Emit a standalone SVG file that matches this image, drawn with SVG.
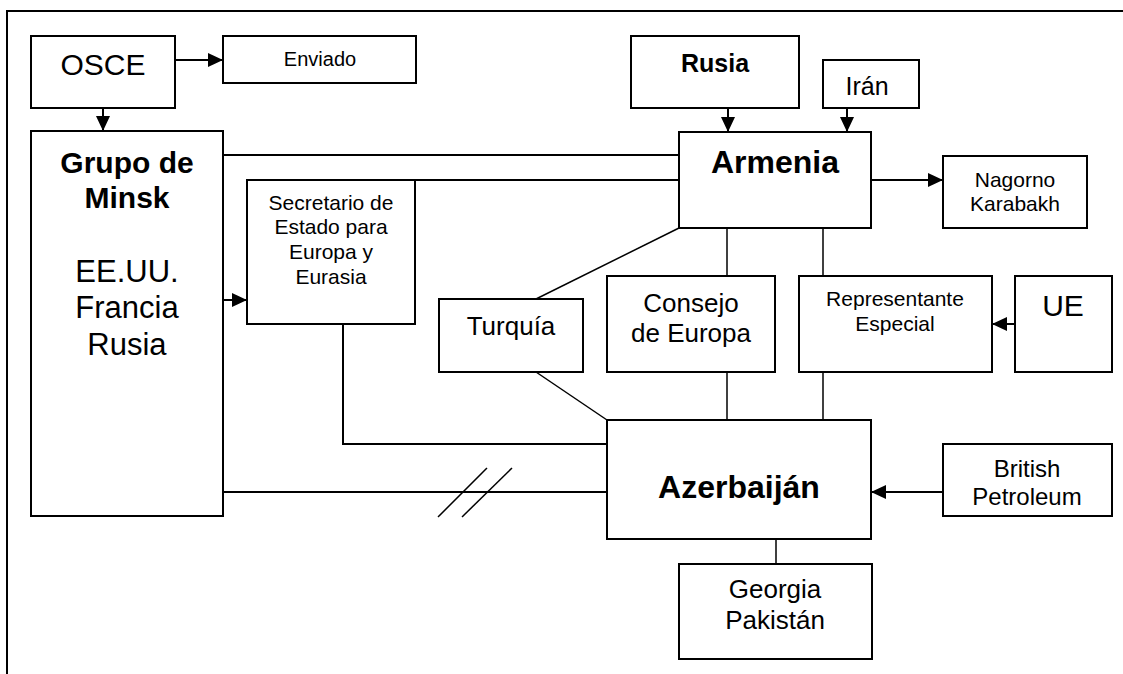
<svg xmlns="http://www.w3.org/2000/svg" width="1123" height="674" viewBox="0 0 1123 674">
<style>
.box{fill:#fff;stroke:#000;stroke-width:2}
.t{font-family:"Liberation Sans",Arial,sans-serif;fill:#000;text-anchor:middle}
.b{font-weight:bold}
.ln{fill:none;stroke:#000;stroke-width:2}
.thin{fill:none;stroke:#000;stroke-width:1.5}
.arr{fill:none;stroke:#000;stroke-width:2;marker-end:url(#ah)}
</style>
<defs>
<marker id="ah" markerUnits="userSpaceOnUse" markerWidth="16" markerHeight="15" refX="15" refY="7" orient="auto">
<path d="M0,0 L15,7 L0,14 z" fill="#000"/>
</marker>
</defs>
<rect width="1123" height="674" fill="#fff"/>
<g id="frame">
<path class="ln" d="M7,674 V11 H1123"/>
</g>
<g id="connectors">
<line class="arr" x1="175" y1="60" x2="223" y2="60"/>
<line class="arr" x1="103" y1="108" x2="103" y2="131"/>
<line class="ln" x1="223" y1="155" x2="679" y2="155"/>
<line class="ln" x1="415" y1="180" x2="679" y2="180"/>
<line class="arr" x1="175" y1="300" x2="247" y2="300"/>
<line class="arr" x1="728" y1="108" x2="728" y2="132"/>
<line class="arr" x1="847" y1="108" x2="847" y2="132"/>
<line class="arr" x1="871" y1="180" x2="943" y2="180"/>
<polyline class="ln" points="343,324 343,444 607,444"/>
<line class="ln" x1="223" y1="492" x2="607" y2="492"/>
<line class="thin" x1="438" y1="517" x2="487" y2="468"/>
<line class="thin" x1="462" y1="517" x2="512" y2="468"/>
<line class="thin" x1="679" y1="228" x2="536" y2="299"/>
<line class="thin" x1="536" y1="372" x2="607" y2="420"/>
<line class="thin" x1="727" y1="228" x2="727" y2="276"/>
<line class="thin" x1="727" y1="372" x2="727" y2="420"/>
<line class="thin" x1="823" y1="228" x2="823" y2="276"/>
<line class="thin" x1="823" y1="372" x2="823" y2="420"/>
<line class="arr" x1="1015" y1="324" x2="992" y2="324"/>
<line class="arr" x1="943" y1="492" x2="871" y2="492"/>
<line class="thin" x1="776" y1="539" x2="776" y2="564"/>
</g>
<g id="osce">
<rect class="box" x="31" y="36" width="144" height="72"/>
<text class="t" x="103" y="75" font-size="30">OSCE</text>
</g>
<g id="enviado">
<rect class="box" x="223" y="36" width="193" height="47"/>
<text class="t" x="320" y="66" font-size="20">Enviado</text>
</g>
<g id="grupo-minsk">
<rect class="box" x="31" y="131" width="192" height="385"/>
<text class="t b" x="127" y="173" font-size="30">Grupo de</text>
<text class="t b" x="127" y="208" font-size="30">Minsk</text>
<text class="t" x="127" y="282" font-size="31">EE.UU.</text>
<text class="t" x="127" y="318" font-size="31">Francia</text>
<text class="t" x="127" y="355" font-size="31">Rusia</text>
</g>
<g id="secretario">
<rect class="box" x="247" y="180" width="168" height="144"/>
<text class="t" x="331" y="210" font-size="21">Secretario de</text>
<text class="t" x="331" y="234" font-size="21">Estado para</text>
<text class="t" x="331" y="259" font-size="21">Europa y</text>
<text class="t" x="331" y="284" font-size="21">Eurasia</text>
</g>
<g id="rusia">
<rect class="box" x="631" y="36" width="168" height="72"/>
<text class="t b" x="715" y="72" font-size="25">Rusia</text>
</g>
<g id="iran">
<rect class="box" x="823" y="60" width="96" height="48"/>
<text class="t" x="867" y="95" font-size="25">Irán</text>
</g>
<g id="armenia">
<rect class="box" x="679" y="132" width="192" height="96"/>
<text class="t b" x="775" y="173" font-size="32">Armenia</text>
</g>
<g id="nagorno">
<rect class="box" x="943" y="156" width="144" height="72"/>
<text class="t" x="1015" y="187" font-size="21">Nagorno</text>
<text class="t" x="1015" y="211" font-size="21">Karabakh</text>
</g>
<g id="turquia">
<rect class="box" x="439" y="299" width="144" height="73"/>
<text class="t" x="511" y="335" font-size="26">Turquía</text>
</g>
<g id="consejo">
<rect class="box" x="607" y="276" width="168" height="96"/>
<text class="t" x="691" y="312" font-size="26">Consejo</text>
<text class="t" x="691" y="342" font-size="26">de Europa</text>
</g>
<g id="representante">
<rect class="box" x="799" y="276" width="193" height="96"/>
<text class="t" x="895" y="306" font-size="21">Representante</text>
<text class="t" x="895" y="331" font-size="21">Especial</text>
</g>
<g id="ue">
<rect class="box" x="1015" y="276" width="97" height="96"/>
<text class="t" x="1063" y="316" font-size="30">UE</text>
</g>
<g id="azerbaijan">
<rect class="box" x="607" y="420" width="264" height="119"/>
<text class="t b" x="739" y="498" font-size="32">Azerbaiján</text>
</g>
<g id="british-petroleum">
<rect class="box" x="943" y="444" width="169" height="72"/>
<text class="t" x="1027" y="477" font-size="24">British</text>
<text class="t" x="1027" y="505" font-size="24">Petroleum</text>
</g>
<g id="georgia">
<rect class="box" x="679" y="564" width="193" height="95"/>
<text class="t" x="775" y="598" font-size="26">Georgia</text>
<text class="t" x="775" y="629" font-size="26">Pakistán</text>
</g>
</svg>
